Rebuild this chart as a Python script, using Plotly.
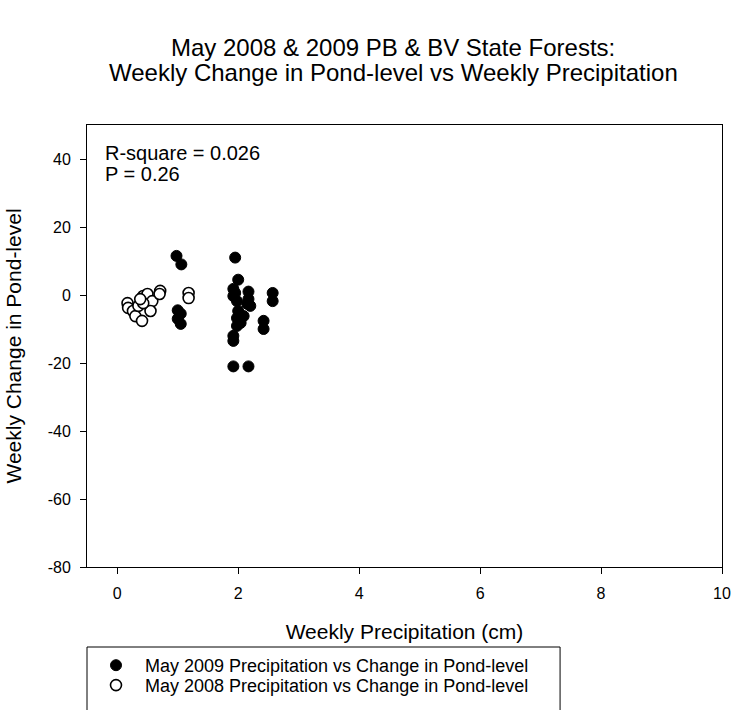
import plotly.graph_objects as go

# May 2009 (filled)
x_2009 = [0.98, 1.06, 1.00, 1.05, 1.00, 1.05,
          1.95, 2.00, 1.92, 1.95, 1.92, 2.17, 2.17, 1.98, 2.15, 2.20,
          2.00, 1.98, 2.09, 2.04, 1.98, 2.57, 2.57, 2.42, 2.42,
          1.92, 1.92, 1.92, 2.17]
y_2009 = [11.5, 9.0, -4.5, -5.5, -7.0, -8.5,
          11.0, 4.5, 1.8, 0.6, -0.3, 1.0, -1.2, -1.8, -2.6, -3.2,
          -4.7, -6.8, -6.2, -8.2, -9.1, 0.6, -1.8, -7.6, -10.0,
          -12.0, -13.5, -21.0, -21.0]

# May 2008 (open)
x_2008 = [0.17, 0.18, 0.26, 0.30, 0.41, 0.35, 0.43, 0.50, 0.58, 0.55,
          0.43, 0.38, 0.71, 0.70, 1.18, 1.18]
y_2008 = [-2.4, -3.8, -4.7, -6.2, -7.6, -3.2, -0.3, 0.3, -1.8, -4.7,
          -2.4, -1.2, 1.2, 0.3, 0.6, -0.9]

x_ticks = [0, 2, 4, 6, 8, 10]
y_ticks = [-80, -60, -40, -20, 0, 20, 40]

title_lines = ["May 2008 & 2009 PB & BV State Forests:",
               "Weekly Change in Pond-level vs Weekly Precipitation"]
stats_lines = ["R-square = 0.026", "P = 0.26"]

FONT = "Liberation Sans, Arial, sans-serif"

fig = go.Figure()
fig.add_trace(go.Scatter(
    x=x_2009, y=y_2009, mode="markers",
    name="May 2009 Precipitation vs Change in Pond-level",
    marker=dict(size=11, color="black", line=dict(color="black", width=1)),
    legend="legend",
))
fig.add_trace(go.Scatter(
    x=x_2008, y=y_2008, mode="markers",
    name="May 2008 Precipitation vs Change in Pond-level",
    marker=dict(size=11, color="white", line=dict(color="black", width=1.6)),
    legend="legend2",
))

annotations = [
    dict(text=title_lines[0], xref="paper", yref="paper", x=0.482, y=1.176,
         xanchor="center", yanchor="middle", showarrow=False, font=dict(size=24)),
    dict(text=title_lines[1], xref="paper", yref="paper", x=0.482, y=1.118,
         xanchor="center", yanchor="middle", showarrow=False, font=dict(size=24)),
    dict(text=stats_lines[0], xref="paper", yref="paper", x=0.025, y=0.937,
         xanchor="left", yanchor="middle", showarrow=False, font=dict(size=20)),
    dict(text=stats_lines[1], xref="paper", yref="paper", x=0.025, y=0.889,
         xanchor="left", yanchor="middle", showarrow=False, font=dict(size=20)),
]

legend_common = dict(
    x=0, xanchor="left", yanchor="top",
    borderwidth=0, bgcolor="rgba(0,0,0,0)",
    font=dict(size=18), tracegroupgap=0, itemwidth=48,
)

fig.update_layout(
    width=733, height=710,
    margin=dict(l=87, r=11, t=125, b=143, autoexpand=False),
    paper_bgcolor="white", plot_bgcolor="white",
    font=dict(family=FONT, color="black", size=16),
    xaxis=dict(
        range=[-0.5, 10], tickvals=x_ticks, ticktext=[str(v) for v in x_ticks],
        showgrid=False, zeroline=False, automargin=False,
        showline=True, linecolor="black", linewidth=1, mirror=True,
        ticks="outside", ticklen=6, tickcolor="black", ticklabelstandoff=6,
        tickfont=dict(size=16),
        title=dict(text="Weekly Precipitation (cm)", font=dict(size=21), standoff=23),
    ),
    yaxis=dict(
        range=[-80, 50], tickvals=y_ticks, ticktext=[str(v) for v in y_ticks],
        showgrid=False, zeroline=False, automargin=False,
        showline=True, linecolor="black", linewidth=1, mirror=True,
        ticks="outside", ticklen=6, tickcolor="black", ticklabelstandoff=6,
        tickfont=dict(size=16),
        title=dict(text="Weekly Change in Pond-level", font=dict(size=21), standoff=20),
    ),
    showlegend=True,
    legend=dict(y=-0.181, **legend_common),
    legend2=dict(y=-0.226, **legend_common),
    shapes=[
        dict(type="rect", xref="paper", yref="paper",
             x0=0, x1=0.745, y0=-0.40, y1=-0.181,
             line=dict(color="black", width=1), fillcolor="rgba(0,0,0,0)",
             layer="below"),
    ],
    annotations=annotations,
)

fig.write_html("out.html")
